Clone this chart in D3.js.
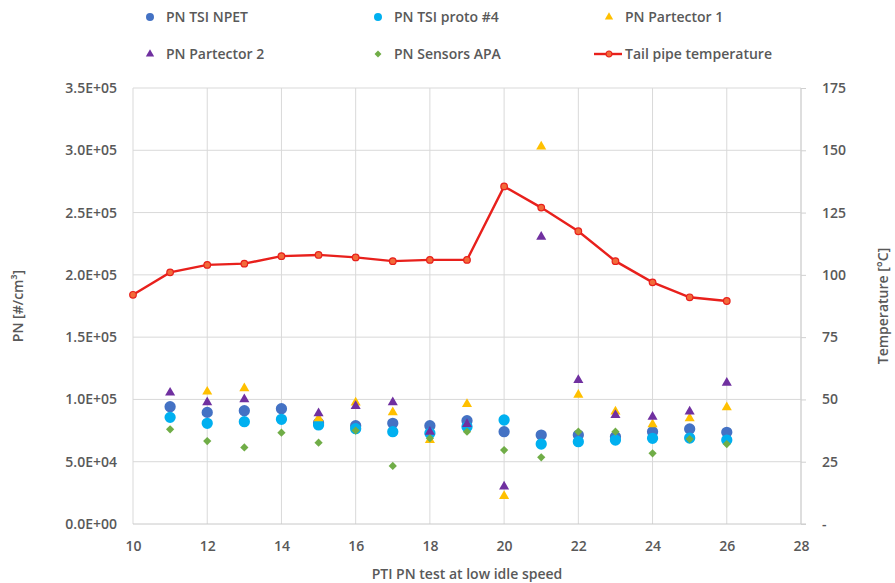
<!DOCTYPE html>
<html>
<head>
<meta charset="utf-8">
<script src="https://cdn.jsdelivr.net/npm/d3@7"></script>
<style>
  html, body { margin: 0; padding: 0; background: #fff; }
  svg { display: block; font-family: "Open Sans", "Noto Sans", sans-serif; }
</style>
</head>
<body>
<svg id="chart" width="895" height="583"></svg>
<script>
// Test points along the x axis
const testIds = [10, 11, 12, 13, 14, 15, 16, 17, 18, 19, 20, 21, 22, 23, 24, 25, 26];

// Particle number readings per instrument (null = no reading)
const pnTsiNpet    = [null, 94200, 89600, 91000, 92600, 81000, 78900, 80800, 78900, 82900, 74100, 71400, 71400, 70100, 74100, 76300, 73600];
const pnTsiProto4  = [null, 85600, 80800, 82100, 84000, 79500, 76500, 74100, 72800, 78000, 83500, 64200, 66100, 67400, 68800, 69000, 67400];
const pnPartector1 = [null, null, 106200, 108900, null, 84800, 97400, 89700, 67400, 96300, 22500, 303000, 103600, 90200, 80000, 84800, 93700];
const pnPartector2 = [null, 105400, 97700, 100100, null, 88800, 94700, 97700, 74000, 80300, 30000, 230600, 115600, 87500, 86100, 90200, 113400];
const pnSensorsApa = [null, 76000, 66600, 61500, 73300, 65300, 75000, 46600, 68800, 74100, 59400, 53500, 74100, 74100, 56700, 68200, 64200];

// Tail pipe temperature [°C]
const tailPipeTemp = [92, 101, 104, 104.5, 107.5, 108, 107, 105.5, 106, 106, 135.5, 127, 117.5, 105.5, 97, 91, 89.5];

// Axis ticks
const xTicks = [10, 12, 14, 16, 18, 20, 22, 24, 26, 28];
const pnTicks = [0, 50000, 100000, 150000, 200000, 250000, 300000, 350000];
const tempTicks = [0, 25, 50, 75, 100, 125, 150, 175];

const scatterSeries = [
  { name: "PN TSI NPET",     values: pnTsiNpet,    color: "#4472C4", shape: "circle" },
  { name: "PN TSI proto #4", values: pnTsiProto4,  color: "#00B0F0", shape: "circle" },
  { name: "PN Partector 1",  values: pnPartector1, color: "#FFC000", shape: "triangle" },
  { name: "PN Partector 2",  values: pnPartector2, color: "#7030A0", shape: "triangle" },
  { name: "PN Sensors APA",  values: pnSensorsApa, color: "#70AD47", shape: "diamond" }
];
const tempName = "Tail pipe temperature";
const tempColor = "#E8201C";
const tempMarker = "#F26B3A";

const svg = d3.select("#chart");
const textColor = "#595959";
const plot = { left: 133, right: 801, top: 88, bottom: 524 };

const x = d3.scaleLinear().domain([10, 28]).range([plot.left, plot.right]);
const yPn = d3.scaleLinear().domain([0, 350000]).range([plot.bottom, plot.top]);
const yT = d3.scaleLinear().domain([0, 175]).range([plot.bottom, plot.top]);

function sci(d) {
  if (d === 0) return "0.0E+00";
  const e = Math.floor(Math.log10(d));
  const m = d / Math.pow(10, e);
  return m.toFixed(1) + "E+" + String(e).padStart(2, "0");
}

function symbolPath(shape) {
  if (shape === "circle") return d3.symbol().type(d3.symbolCircle).size(100)();
  if (shape === "triangle") return d3.symbol().type(d3.symbolTriangle).size(44)();
  return d3.symbol().type(d3.symbolSquare).size(34)();
}
function symbolRotate(shape) { return shape === "diamond" ? " rotate(45)" : ""; }

// Gridlines
const grid = svg.append("g");
grid.selectAll("line.v").data(xTicks).join("line")
  .attr("x1", d => x(d)).attr("x2", d => x(d))
  .attr("y1", plot.top).attr("y2", plot.bottom)
  .attr("stroke", "#d9d9d9").attr("stroke-width", 1);
grid.selectAll("line.h").data(pnTicks.slice(1)).join("line")
  .attr("x1", plot.left).attr("x2", plot.right)
  .attr("y1", d => yPn(d)).attr("y2", d => yPn(d))
  .attr("stroke", "#d9d9d9").attr("stroke-width", 1);

// Bottom axis
const xAxis = svg.append("g").attr("transform", `translate(0,${plot.bottom})`)
  .call(d3.axisBottom(x).tickValues(xTicks).tickSize(0).tickPadding(17).tickFormat(d3.format("d")));
xAxis.select(".domain").attr("stroke", "#c8c8c8").attr("d", `M${plot.left},0H${plot.right + 5}`);

// Left axis
const yAxisL = svg.append("g").attr("transform", `translate(${plot.left - 16},0)`)
  .call(d3.axisLeft(yPn).tickValues(pnTicks).tickSize(0).tickPadding(0).tickFormat(sci));
yAxisL.select(".domain").remove();

// Right axis
const yAxisR = svg.append("g").attr("transform", `translate(${plot.right},0)`)
  .call(d3.axisRight(yT).tickValues(tempTicks).tickSize(5).tickPadding(16)
    .tickFormat(d => d === 0 ? "-" : d));
yAxisR.select(".domain").attr("stroke", "#d0d0d0").attr("d", `M0,${plot.top}V${plot.bottom}`);
yAxisR.selectAll(".tick line").attr("stroke", "#d0d0d0");

svg.selectAll(".tick text")
  .attr("fill", textColor).attr("font-size", 14).attr("font-weight", 600)
  .attr("font-family", "'Open Sans', sans-serif");

// Axis titles
svg.append("text").attr("x", (plot.left + plot.right) / 2).attr("y", 579)
  .attr("text-anchor", "middle").attr("fill", textColor)
  .attr("font-size", 14).attr("font-weight", 600)
  .text("PTI PN test at low idle speed");
svg.append("text").attr("transform", `translate(23,${(plot.top + plot.bottom) / 2}) rotate(-90)`)
  .attr("text-anchor", "middle").attr("fill", textColor)
  .attr("font-size", 14).attr("font-weight", 600)
  .text("PN [#/cm³]");
svg.append("text").attr("transform", `translate(888,${(plot.top + plot.bottom) / 2}) rotate(-90)`)
  .attr("text-anchor", "middle").attr("fill", textColor)
  .attr("font-size", 14).attr("font-weight", 600)
  .text("Temperature [°C]");

// Scatter series
scatterSeries.forEach(s => {
  const pts = testIds.map((t, i) => ({ t, v: s.values[i] })).filter(p => p.v != null);
  svg.append("g").selectAll("path").data(pts).join("path")
    .attr("d", symbolPath(s.shape))
    .attr("transform", p => `translate(${x(p.t)},${yPn(p.v)})${symbolRotate(s.shape)}`)
    .attr("fill", s.color);
});

// Temperature line
const tempPts = testIds.map((t, i) => ({ t, v: tailPipeTemp[i] }));
svg.append("path").datum(tempPts)
  .attr("d", d3.line().x(p => x(p.t)).y(p => yT(p.v)))
  .attr("fill", "none").attr("stroke", tempColor).attr("stroke-width", 2.4);
svg.append("g").selectAll("circle").data(tempPts).join("circle")
  .attr("cx", p => x(p.t)).attr("cy", p => yT(p.v)).attr("r", 3.3)
  .attr("fill", tempMarker).attr("stroke", tempColor).attr("stroke-width", 1.2);

// Legend
const legendItems = [
  { name: scatterSeries[0].name, color: scatterSeries[0].color, shape: "circle",   lx: 150, ly: 17 },
  { name: scatterSeries[1].name, color: scatterSeries[1].color, shape: "circle",   lx: 378, ly: 17 },
  { name: scatterSeries[2].name, color: scatterSeries[2].color, shape: "triangle", lx: 609, ly: 17 },
  { name: scatterSeries[3].name, color: scatterSeries[3].color, shape: "triangle", lx: 150, ly: 54 },
  { name: scatterSeries[4].name, color: scatterSeries[4].color, shape: "diamond",  lx: 378, ly: 54 },
  { name: tempName,              color: tempColor,              shape: "line",     lx: 609, ly: 54 }
];
const legend = svg.append("g");
legendItems.forEach(it => {
  const g = legend.append("g").attr("transform", `translate(${it.lx},${it.ly})`);
  if (it.shape === "line") {
    g.append("line").attr("x1", -15).attr("x2", 13).attr("y1", 0).attr("y2", 0)
      .attr("stroke", tempColor).attr("stroke-width", 2.4);
    g.append("circle").attr("r", 3).attr("fill", tempMarker)
      .attr("stroke", tempColor).attr("stroke-width", 1.2);
  } else {
    const sz = it.shape === "circle" ? 50 : it.shape === "triangle" ? 30 : 24;
    const type = it.shape === "circle" ? d3.symbolCircle : it.shape === "triangle" ? d3.symbolTriangle : d3.symbolSquare;
    g.append("path").attr("d", d3.symbol().type(type).size(sz)())
      .attr("transform", it.shape === "diamond" ? "rotate(45)" : null)
      .attr("fill", it.color);
  }
  g.append("text").attr("x", 16).attr("y", 0).attr("dy", "0.35em")
    .attr("fill", textColor).attr("font-size", 14).attr("font-weight", 600)
    .text(it.name);
});
</script>
</body>
</html>
